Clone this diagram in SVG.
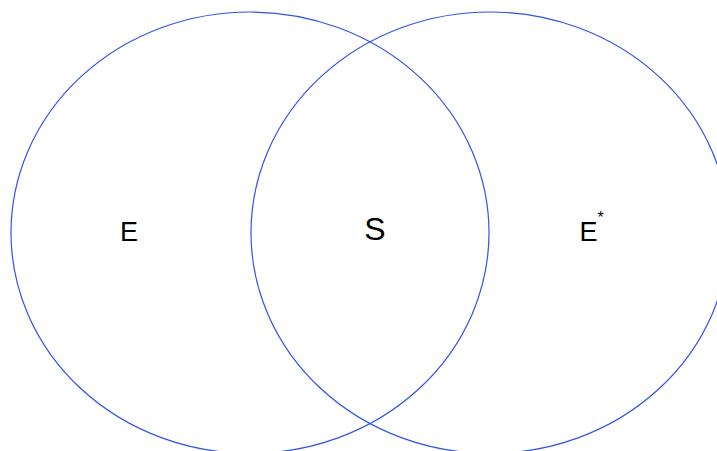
<svg xmlns="http://www.w3.org/2000/svg" width="717" height="451" viewBox="0 0 717 451">
<style>
.c{fill:none;stroke:#2f52f0;stroke-width:1.2}
.t{font-family:"Liberation Sans",Arial,sans-serif;fill:#000}
</style>
<rect width="717" height="451" fill="#fff"/>
<g id="connectors"></g>
<g id="E-set"><ellipse class="c" cx="250" cy="232.7" rx="239" ry="220.7"/><text class="t" x="129" y="241" font-size="27" text-anchor="middle">E</text></g>
<g id="Estar-set"><ellipse class="c" cx="490" cy="232.7" rx="239" ry="220.7"/><text class="t" x="588.5" y="241" font-size="27" text-anchor="middle">E</text><text class="t" x="600.5" y="223" font-size="16" text-anchor="middle">*</text></g>
<g id="S"><text class="t" x="375" y="240" font-size="32" text-anchor="middle">S</text></g>
</svg>
